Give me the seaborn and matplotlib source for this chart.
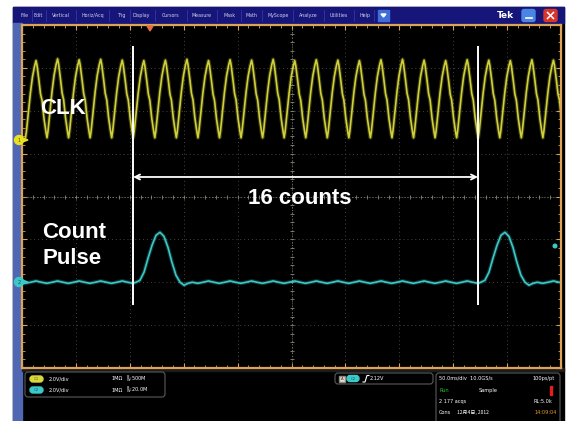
import numpy as np
import pandas as pd
import matplotlib
matplotlib.use("Agg")
import matplotlib.pyplot as plt
from matplotlib.patches import Rectangle, FancyBboxPatch, Circle, Polygon
import seaborn as sns

# ---------------- data ----------------
ms_per_div = 50            # horizontal scale (50.0 ms/div)
volts_per_div = 2.0        # both channels 2.0 V/div
clk_position_div = 1.32    # CLK ground marker position (div)
count_position_div = -2.0  # Count pulse ground marker position (div)

# CLK: time of each clock peak (ms) and its height (V)
clk_peak_ms = [13, 33, 53, 73, 93, 113, 133, 153, 173, 193, 213, 233, 253,
               273, 293, 313, 333, 353, 373, 393, 413, 433, 453, 473, 493]
clk_peak_volts = [3.70, 3.78, 3.74, 3.76, 3.72, 3.70, 3.72, 3.76, 3.70, 3.74,
                  3.72, 3.76, 3.70, 3.74, 3.72, 3.70, 3.74, 3.76, 3.72, 3.70,
                  3.74, 3.72, 3.70, 3.74, 3.72]
# shape of one clock cycle around its peak (offset ms, volts)
clk_cycle_dt = [-9.8, -8.9, -7.0, -5.2, -3.3, -1.4, 0.0, 0.9, 2.8, 4.2, 5.6, 7.4, 9.3]
clk_cycle_v = [0.10, 0.40, 1.35, 2.20, 2.95, 3.45, 3.72, 3.50, 2.75, 2.15, 1.85, 1.00, 0.35]

# Count pulse: pulse centres (ms) and pulse shape (offset ms, volts)
count_pulse_ms = [128, 448]
count_pulse_dt = [-22.3, -18.6, -14.8, -11.1, -7.4, -3.7, 0.0, 3.7, 7.4, 11.1, 14.8, 18.6, 22.3, 26.0]
count_pulse_v = [0.00, 0.09, 0.47, 1.12, 1.72, 2.19, 2.33, 2.14, 1.63, 0.93, 0.33, 0.00, -0.14, -0.05]
# small baseline ripple following each clock cycle (offset ms, volts)
count_ripple_dt = [-10.0, -5.0, 0.0, 5.0]
count_ripple_v = [-0.05, 0.00, 0.06, 0.00]

# cursor markers spanning 16 clock counts (ms)
marker_ms = [103, 423]

# ---------------- build traces ----------------
clk_t, clk_v = [], []
for pk, pv in zip(clk_peak_ms, clk_peak_volts):
    for dt, v in zip(clk_cycle_dt, clk_cycle_v):
        clk_t.append(pk + dt)
        clk_v.append(v * pv / clk_cycle_v[6])

cnt = []
for pk in clk_peak_ms:
    for dt, v in zip(count_ripple_dt, count_ripple_v):
        t = pk + dt
        if all(not (c + count_pulse_dt[0] <= t <= c + count_pulse_dt[-1]) for c in count_pulse_ms):
            cnt.append((t, v))
for c in count_pulse_ms:
    for dt, v in zip(count_pulse_dt, count_pulse_v):
        cnt.append((c + dt, v))
cnt.sort()

df = pd.concat([
    pd.DataFrame({"time_ms": clk_t,
                  "div": np.array(clk_v) / volts_per_div + clk_position_div,
                  "channel": "CLK"}),
    pd.DataFrame({"time_ms": [p[0] for p in cnt],
                  "div": np.array([p[1] for p in cnt]) / volts_per_div + count_position_div,
                  "channel": "Count"}),
], ignore_index=True)

# ---------------- figure ----------------
W, H = 566, 421
fig = plt.figure(figsize=(W / 100, H / 100), dpi=100, facecolor="white")


def px_axes(x0, y0, x1, y1, z):
    a = fig.add_axes([x0 / W, 1 - y1 / H, (x1 - x0) / W, (y1 - y0) / H])
    a.set_zorder(z)
    return a


bg = px_axes(0, 0, W, H, 0)
bg.set_xlim(0, W); bg.set_ylim(H, 0); bg.axis("off")

# screen frame
bg.add_patch(Rectangle((13, 7), 551, 414, color="black"))
bg.add_patch(Rectangle((13, 7), 551, 16, color="#16167a"))
bg.add_patch(Rectangle((13, 23), 9, 398, color="#5068b4"))

menu = [("File", 25), ("Edit", 38.5), ("Vertical", 61), ("Horiz/Acq", 92.5),
        ("Trig", 122.5), ("Display", 141), ("Cursors", 171), ("Measure", 202),
        ("Mask", 229.5), ("Math", 251.5), ("MyScope", 278), ("Analyze", 308.5),
        ("Utilities", 339), ("Help", 364.5)]
for i, (lab, x) in enumerate(menu):
    bg.text(x, 15.5, lab, color="#d0d0ec", fontsize=3.4, ha="center", va="center")
seps = [31.5, 46, 76, 109, 130, 155, 187, 217, 241, 262, 293, 324, 354, 374]
for s in seps:
    bg.plot([s, s], [10, 21], color="#3c3ca8", lw=0.5)
bg.add_patch(Rectangle((378, 10), 11, 11, color="#3f6fd6"))
bg.add_patch(Polygon([[381, 14], [386, 14], [383.5, 17]], color="white"))
bg.text(505, 15.5, "Tek", color="white", fontsize=6.5, fontweight="bold",
        ha="center", va="center")
bg.add_patch(FancyBboxPatch((522, 9.5), 13, 12, boxstyle="round,pad=0,rounding_size=2",
                            color="#4a84e4"))
bg.plot([525.5, 531.5], [18, 18], color="white", lw=1.2)
bg.add_patch(FancyBboxPatch((544, 9.5), 13, 12, boxstyle="round,pad=0,rounding_size=2",
                            color="#d8362a"))
bg.plot([547.5, 553.5], [12.5, 18.5], color="white", lw=1.1)
bg.plot([547.5, 553.5], [18.5, 12.5], color="white", lw=1.1)

# bottom info panels
bg.add_patch(Rectangle((22, 368), 542, 3, color="#1c1c1c"))
for (x0, y0, w, h) in [(25, 372, 140, 25), (335, 373, 98, 11), (436, 373, 124, 52)]:
    bg.add_patch(FancyBboxPatch((x0, y0), w, h, boxstyle="round,pad=0,rounding_size=3",
                                facecolor="black", edgecolor="#5a5a5a", lw=0.8))
tfs = 3.6
for yy, col, name, bw in [(379, "#d8d83a", "C1", "500M"), (390, "#3cc8c8", "C2", "20.0M")]:
    bg.add_patch(FancyBboxPatch((30, yy - 3), 13, 6, boxstyle="round,pad=0,rounding_size=3",
                                color=col))
    bg.text(36.5, yy, name, color="#606020" if name == "C1" else "#106060",
            fontsize=2.8, ha="center", va="center")
    bg.text(49, yy, "2.0V/div", color="white", fontsize=tfs, va="center")
    bg.text(112, yy, "1MΩ", color="white", fontsize=tfs, va="center")
    bg.text(126, yy, r"$\mathregular{^{B}_{W}}$" + ":" + bw, color="white", fontsize=tfs,
            va="center")
# trigger box
bg.add_patch(Rectangle((339, 375.5), 6, 6.5, facecolor="#e8e0c8", edgecolor="#888"))
bg.text(342, 378.8, "A", color="#402010", fontsize=2.8, ha="center", va="center")
bg.add_patch(FancyBboxPatch((347, 375.5), 12, 6, boxstyle="round,pad=0,rounding_size=3",
                            color="#3cc8c8"))
bg.text(353, 378.5, "C2", color="#106060", fontsize=2.8, ha="center", va="center")
bg.plot([363, 365, 367, 369], [382, 382, 375.5, 375.5], color="white", lw=0.8)
bg.text(370, 378.8, "2.12V", color="white", fontsize=tfs, va="center")
# acquisition box
bg.text(439, 378.5, "50.0ms/div  10.0GS/s", color="white", fontsize=tfs, va="center")
bg.text(555, 378.5, "100ps/pt", color="white", fontsize=tfs, va="center", ha="right")
bg.text(439, 390.5, "Run", color="#22cc22", fontsize=tfs, va="center")
bg.text(479, 390.5, "Sample", color="white", fontsize=tfs, va="center")
bg.add_patch(Rectangle((550, 386), 2, 9, color="#e02020"))
bg.text(439, 401.5, "2 177 acqs", color="white", fontsize=tfs, va="center")
bg.text(552, 401.5, "RL:5.0k", color="white", fontsize=tfs, va="center", ha="right")
bg.text(439, 412.5, "Cons", color="white", fontsize=tfs, va="center")
bg.text(457, 412.5, "12月4日, 2012", color="white", fontsize=tfs, va="center",
        family=["Noto Sans CJK SC", "DejaVu Sans"])
bg.text(557, 412.5, "14:09:04", color="#e89a30", fontsize=tfs, va="center", ha="right")

# ---------------- scope graticule + traces ----------------
orange = "#dca458"
sc = px_axes(22, 25, 561, 368, 1)
sc.set_facecolor("black")
sc.set_xlim(0, 10 * ms_per_div)
sc.set_ylim(-4, 4)
for s in sc.spines.values():
    s.set_color(orange)
    s.set_linewidth(1.6)
sc.set_xticks(np.arange(0, 10 * ms_per_div + 1, ms_per_div))
sc.set_xticks(np.arange(0, 10 * ms_per_div + 1, ms_per_div / 5), minor=True)
sc.set_yticks(np.arange(-4, 4.01, 1))
sc.set_yticks(np.arange(-4, 4.01, 0.2), minor=True)
sc.tick_params(which="both", direction="in", top=True, right=True, bottom=True, left=True,
               labelbottom=False, labelleft=False, labeltop=False, labelright=False,
               color=orange)
sc.tick_params(which="major", length=3.5, width=0.8)
sc.tick_params(which="minor", length=2.0, width=0.6)
sc.grid(which="major", color="#44443e", linestyle=(0, (1, 3)), linewidth=0.7)
sc.axvline(5 * ms_per_div, color="#7a7a6a", ls=(0, (1, 2)), lw=0.7)
sc.axhline(0, color="#7a7a6a", ls=(0, (1, 2)), lw=0.7)
yy = np.arange(-4, 4.01, 0.2)
sc.plot(np.full_like(yy, 5 * ms_per_div), yy, ls="none", marker="_", ms=3.5,
        mew=0.6, color="#8a8a78")
xx = np.arange(0, 10 * ms_per_div + 1, ms_per_div / 5)
sc.plot(xx, np.zeros_like(xx), ls="none", marker="|", ms=3.5, mew=0.6, color="#8a8a78")

pal = {"CLK": "#d0d03a", "Count": "#3cc8c8"}
sns.lineplot(data=df, x="time_ms", y="div", hue="channel", palette=pal, estimator=None,
             sort=False, legend=False, lw=2.8, alpha=0.25, ax=sc)
sns.lineplot(data=df, x="time_ms", y="div", hue="channel", palette=pal, estimator=None,
             sort=False, legend=False, lw=1.2, ax=sc)
sc.set_xlabel("")
sc.set_ylabel("")

# cursor markers and 16-count arrow
for m in marker_ms:
    sc.plot([m, m], [3.51, -2.53], color="white", lw=1.4, solid_capstyle="butt")
sc.annotate("", xy=(marker_ms[0], 0.455), xytext=(marker_ms[1], 0.455),
            arrowprops=dict(arrowstyle="<->", color="white", lw=1.3, shrinkA=0, shrinkB=0,
                            mutation_scale=9))

# ---------------- overlay ----------------
ov = px_axes(0, 0, W, H, 2)
ov.set_xlim(0, W); ov.set_ylim(H, 0); ov.axis("off")
ov.patch.set_alpha(0)
font = dict(family="Liberation Sans", fontweight="bold", fontsize=16, color="white")
ov.text(40, 109, "CLK", va="center", ha="left", **font)
ov.text(300, 198, "16 counts", va="center", ha="center", **font)
ov.text(42, 233, "Count", va="center", ha="left", **font)
ov.text(42, 258, "Pulse", va="center", ha="left", **font)

# ground markers
for yy_, col in [(140, "#e8e020"), (282, "#3cc8c8")]:
    ov.add_patch(Polygon([[20, yy_ - 3], [28, yy_], [20, yy_ + 3]], color=col))
    ov.add_patch(Circle((19, yy_), 4.5, color=col))
ov.text(19, 140, "1", fontsize=3.5, color="#605010", ha="center", va="center")
ov.text(19, 282, "2", fontsize=3.5, color="#105050", ha="center", va="center")
# trigger level / position markers
ov.add_patch(Circle((555, 246), 1.8, color="#3cc8c8"))
ov.add_patch(Polygon([[147, 26], [153, 26], [150, 31]], color="#e07040"))

fig.savefig("out.png", dpi=100, facecolor="white")
